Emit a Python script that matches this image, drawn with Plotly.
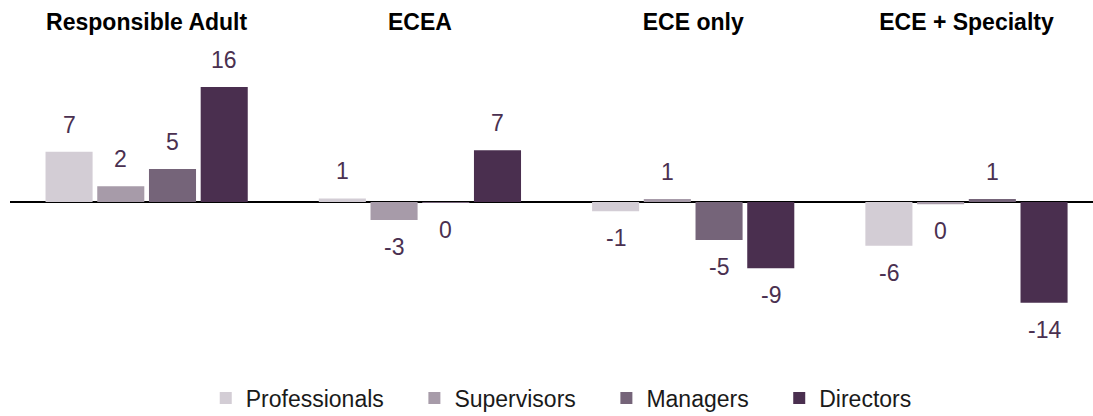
import plotly.graph_objects as go

categories = ["Responsible Adult", "ECEA", "ECE only", "ECE + Specialty"]
series_names = ["Professionals", "Supervisors", "Managers", "Directors"]
professionals = [7.0, 0.5, -1.3, -6.1]
supervisors = [2.2, -2.5, 0.4, -0.3]
managers = [4.6, -0.1, -5.3, 0.4]
directors = [16.0, 7.2, -9.2, -14.0]
professionals_lbl = ["7", "1", "-1", "-6"]
supervisors_lbl = ["2", "-3", "1", "0"]
managers_lbl = ["5", "0", "-5", "1"]
directors_lbl = ["16", "7", "-9", "-14"]

values = [professionals, supervisors, managers, directors]
labels = [professionals_lbl, supervisors_lbl, managers_lbl, directors_lbl]
colors = ["#d3cdd5", "#a79ba9", "#756479", "#4a2f4f"]
label_color = "#4a3050"
FONT = "Liberation Sans, Arial, sans-serif"

BARGAP = 0.243
GROUPGAP = 0.09
n = len(series_names)

fig = go.Figure()
for k, (name, vals, col) in enumerate(zip(series_names, values, colors)):
    pad = "&nbsp;" * 4 if k < n - 1 else ""
    fig.add_trace(go.Bar(x=categories, y=vals, name=name + pad, marker_color=col,
                         marker_line_width=0, hoverinfo="skip"))

slot = (1 - BARGAP) / n
annotations = []
for j, (vals, lbls) in enumerate(zip(values, labels)):
    for i, (v, t) in enumerate(zip(vals, lbls)):
        xpos = i + (j - (n - 1) / 2) * slot
        pos = v > 0
        annotations.append(dict(
            x=xpos, y=v, xref="x", yref="y", text=t, showarrow=False,
            yanchor="bottom" if pos else "top",
            yshift=12 if pos else -12,
            font=dict(family=FONT, size=23, color=label_color),
        ))

fig.update_layout(
    width=1093, height=416,
    margin=dict(l=10, r=0, t=40, b=51, autoexpand=False),
    paper_bgcolor="white", plot_bgcolor="white",
    barmode="group", bargap=BARGAP, bargroupgap=GROUPGAP,
    font=dict(family=FONT, color="#1a1a1a"),
    showlegend=True,
    legend=dict(orientation="h", x=0.509, xanchor="center",
                yref="container", y=18 / 416, yanchor="middle",
                font=dict(family=FONT, size=23, color="#1a1a1a"), itemwidth=30),
    xaxis=dict(side="top", showline=False, showgrid=False, ticks="", automargin=False,
               range=[-0.5, 3.463],
               ticklabelstandoff=4,
               tickvals=categories,
               ticktext=["<b>%s</b>" % c for c in categories],
               tickfont=dict(family=FONT, size=23, color="black")),
    yaxis=dict(range=[-22.67, 22.53], showgrid=False, showticklabels=False, automargin=False,
               zeroline=True, zerolinecolor="black", zerolinewidth=1.5, ticks=""),
    annotations=annotations,
)

fig.write_html(
    "out.html",
    config={"displayModeBar": False},
    post_script="document.body.style.margin='0';document.body.style.overflow='hidden';",
)
